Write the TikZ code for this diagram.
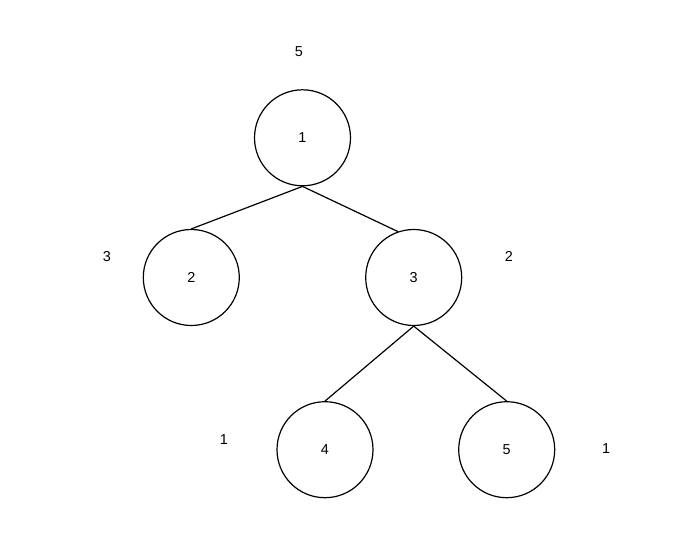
\documentclass[tikz,border=0pt]{standalone}
\usepackage{fontspec}
\setmainfont{Liberation Sans}
\usetikzlibrary{positioning}

\begin{document}
\begin{tikzpicture}[x=1pt,y=-1pt,
  every node/.style={font=\fontsize{14.4}{17}\selectfont},
  vert/.style={draw=black,circle,line width=1.2pt,minimum size=96pt,inner sep=0pt},
  wt/.style={inner sep=0pt},
  ed/.style={line width=1.2pt}]
\useasboundingbox (0,0) rectangle (675,554);
\node[vert] (n1) at (302.5,137.8) {1};
\node[vert] (n2) at (191.3,277.5) {2};
\node[vert] (n3) at (413.7,277.5) {3};
\node[vert] (n4) at (325,449.7) {4};
\node[vert] (n5) at (506.7,449.7) {5};
\node[wt] (w1) at (298.8,52) {5};
\node[wt] (w2) at (107,256.7) {3};
\node[wt] (w3) at (508.8,256.7) {2};
\node[wt] (w4) at (224,439.7) {1};
\node[wt] (w5) at (606,448.8) {1};
\draw[ed] (n1.south) -- (n2.north); \draw[ed] (n1.south) -- (n3.109);
\draw[ed] (n3.south) -- (n4.north); \draw[ed] (n3.south) -- (n5.north);
\end{tikzpicture}
\end{document}
